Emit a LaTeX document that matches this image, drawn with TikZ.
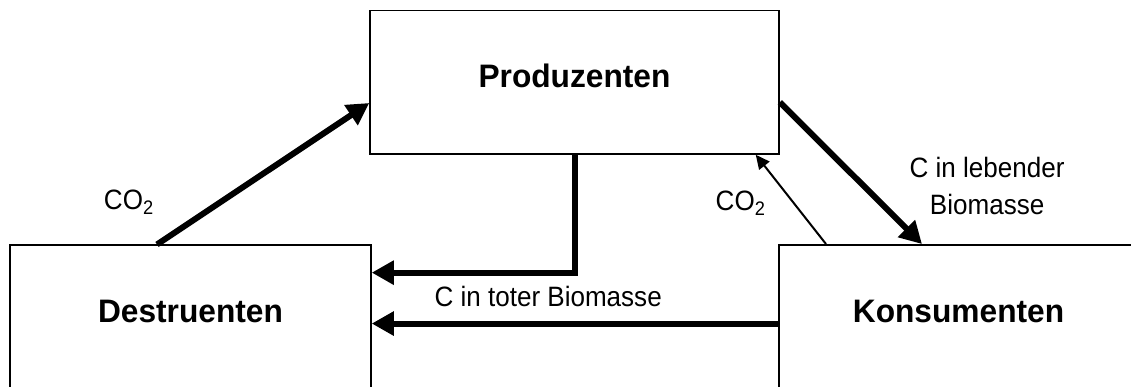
\documentclass[tikz,border=0pt]{standalone}
\usepackage{fontspec}
\setmainfont{Liberation Sans}
\newfontfamily\narrowfont[FakeStretch=0.93]{Liberation Sans}
\newfontfamily\boxfont[FakeStretch=0.975]{Liberation Sans}
\usetikzlibrary{arrows.meta,positioning}

\begin{document}
\begin{tikzpicture}[x=1pt,y=-1pt,
        box/.style={draw,line width=1.5pt,inner sep=0pt,text height=77.5pt,
          font=\boxfont\fontsize{32.5}{38}\selectfont\bfseries},
        flow/.style={line width=6pt,-{Triangle[length=22pt,width=23pt]}},
        gas/.style={line width=2pt,-{Triangle[length=14pt,width=13pt]}},
        lbl/.style={inner sep=0pt,font=\narrowfont\fontsize{28}{37}\selectfont,align=center}]

  \useasboundingbox (0,0) rectangle (1131,387);
  \clip (0,0) rectangle (1131,387);

  \node[box,anchor=base,minimum width=409pt,text depth=66pt] (prod) at (574.5,88) {Produzenten};
  \node[box,anchor=base,minimum width=361pt,text depth=80pt] (dest) at (190.5,322.7) {Destruenten};
  \node[box,anchor=base,minimum width=359pt,text depth=80pt] (kons) at (958.5,322.3) {Konsumenten};

  \path ([xshift=-33.5pt]dest.north) edge[flow] node[lbl,pos=0.3,left=64pt] {CO\textsubscript{2}} ([yshift=-20.75pt]prod.west)
        ([yshift=-20pt]prod.east) edge[flow] node[lbl,pos=0.59,right=43pt] {C in lebender\\Biomasse} ([xshift=-36.5pt]kons.north)
        ([xshift=-132.5pt]kons.north) edge[gas] node[lbl,pos=0.457,left=27.5pt] {CO\textsubscript{2}} ([xshift=-24pt]prod.south east)
        (kons.west) edge[flow] node[lbl,pos=0.566,above=14pt] {C in toter Biomasse} (kons.west -| dest.east);
  \draw[flow] (prod.south) |- ([yshift=51.3pt]dest.east);

\end{tikzpicture}
\end{document}
